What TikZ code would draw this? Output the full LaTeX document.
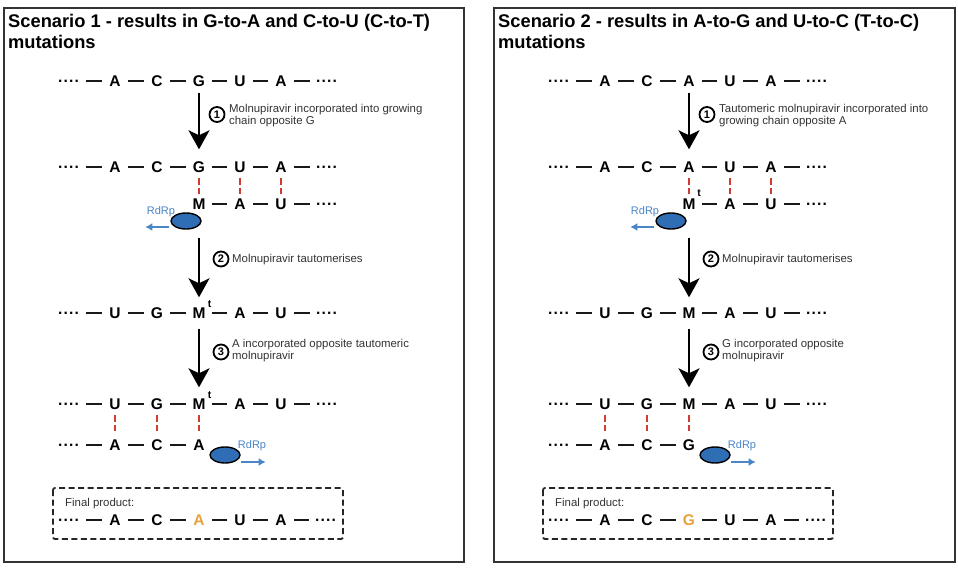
\documentclass[tikz,border=0pt]{standalone}
\usepackage{fontspec}
\setmainfont{Liberation Sans}
\usetikzlibrary{arrows.meta,shapes.geometric}
\definecolor{rdblue}{HTML}{2F6DB5}
\definecolor{rdtext}{HTML}{4A86C8}
\definecolor{pairred}{HTML}{D23B32}
\definecolor{orng}{HTML}{E9A13B}
\definecolor{framecol}{HTML}{333333}
\newcommand\ddd{·\kern0.3pt·\kern0.3pt·\kern0.3pt·}
\newcommand\seqrow[3]{%
  \foreach \xx/\seqlab/\mw [count=\k] in {#3}{%
    \node[nt, minimum width=\mw pt] (#1-\k) at (\xx,#2) {\seqlab};
    \ifnum\k>1
      \pgfmathtruncatemacro\km{\k-1}
      \draw[bond] (#1-\km) -- (#1-\k);
    \fi
  }%
}
\tikzset{
 nt/.style={inner sep=0pt, text height=11pt, text depth=0pt, font=\bfseries\fontsize{15.5}{15.5}\selectfont, anchor=center},
 bond/.style={line width=1.6pt, black!90},
 pairline/.style={pairred, line width=2.4pt, dash pattern=on 7pt off 3pt},
 bigarrow/.style={line width=2pt, -{Stealth[length=19pt,width=21pt,inset=5pt]}},
 num/.style={circle, draw, line width=1.8pt, minimum size=15pt, inner sep=0pt, font=\bfseries\fontsize{11}{11}\selectfont},
 steptxt/.style={anchor=base west, inner sep=0pt, font=\fontsize{11.4}{12}\selectfont, text=black!80},
 titletxt/.style={anchor=base west, inner sep=0pt, font=\bfseries\fontsize{18.3}{20}\selectfont},
 rdrp/.style={ellipse, draw=black, line width=1.4pt, fill=rdblue, minimum width=30pt, minimum height=16pt, inner sep=0pt},
 rdtxt/.style={anchor=base, inner sep=0pt, text=rdtext, font=\fontsize{11}{11}\selectfont},
 barrow/.style={rdtext, line width=1.5pt, -{Latex[length=7pt,width=8pt]}},
 tsup/.style={inner sep=0pt, font=\bfseries\fontsize{10.5}{10.5}\selectfont},
 panel/.style={draw=framecol, line width=2pt},
 finalbox/.style={draw=black!85, line width=1.8pt, dash pattern=on 6pt off 3.5pt, rounded corners=2pt},
}
\begin{document}
\begin{tikzpicture}[x=1pt,y=-1pt]
\fill[white] (0,0) rectangle (958,568);
\useasboundingbox (0,0) rectangle (958,568);

% ================= LEFT PANEL =================
\draw[panel] (4,8) rectangle (464,562);
\node[titletxt] (LT1) at (8,27) {Scenario 1 - results in G-to-A and C-to-U (C-to-T)};
\node[titletxt] (LT2) at (8,48) {mutations};

\seqrow{L1}{81}{69/\ddd/34, 115/A/26, 157/C/26, 199/G/26, 240/U/26, 281/A/26, 327/\ddd/34}
\seqrow{L2}{167}{69/\ddd/34, 115/A/26, 157/C/26, 199/G/26, 240/U/26, 281/A/26, 327/\ddd/34}
\seqrow{L2b}{204}{199/M/26, 240/A/26, 281/U/26, 327/\ddd/34}
\draw[pairline, shorten <=5pt, shorten >=4pt] (L2-4.south) -- (L2b-1.north);
\draw[pairline, shorten <=5pt, shorten >=4pt] (L2-5.south) -- (L2b-2.north);
\draw[pairline, shorten <=5pt, shorten >=4pt] (L2-6.south) -- (L2b-3.north);
\node[rdrp] (LE1) at (186,221) {};
\node[rdtxt] (LR1) at (161,214) {RdRp};
\draw[barrow] ([shift={(-1,6)}]LE1.west) -- ++(-24,0) coordinate (LA1);

\seqrow{L3}{313}{69/\ddd/34, 115/U/26, 157/G/26, 199/M/26, 240/A/26, 281/U/26, 327/\ddd/34}
\node[tsup] (L3t) at ([shift={(10.5,-9)}]L3-4.center) {t};

\seqrow{L4}{404}{69/\ddd/34, 115/U/26, 157/G/26, 199/M/26, 240/A/26, 281/U/26, 327/\ddd/34}
\node[tsup] (L4t) at ([shift={(10.5,-9)}]L4-4.center) {t};
\seqrow{L4b}{445}{69/\ddd/34, 115/A/26, 157/C/26, 199/A/26}
\draw[pairline, shorten <=5.5pt, shorten >=8pt] (L4-2.south) -- (L4b-2.north);
\draw[pairline, shorten <=5.5pt, shorten >=8pt] (L4-3.south) -- (L4b-3.north);
\draw[pairline, shorten <=5.5pt, shorten >=8pt] (L4-4.south) -- (L4b-4.north);
\node[rdrp] (LE2) at (225,455) {};
\node[rdtxt] (LR2) at (252,448) {RdRp};
\draw[barrow] ([shift={(0,7)}]LE2.east) -- ++(25,0) coordinate (LA2);

\draw[bigarrow, shorten <=6pt, shorten >=12pt] (L1-4.south) -- (L2-4.north);
\draw[bigarrow, shorten <=28pt, shorten >=10pt] (L2b-1.south) -- (L3-4.north);
\draw[bigarrow, shorten <=10pt, shorten >=11pt] (L3-4.south) -- (L4-4.north);

\node[num] (LN1) at (217,114.5) {1};
\node[steptxt] (LS1a) at (229,112) {Molnupiravir incorporated into growing};
\node[steptxt] (LS1b) at (229,124) {chain opposite G};
\node[num] (LN2) at (221,259) {2};
\node[steptxt] (LS2) at (232,262) {Molnupiravir tautomerises};
\node[num] (LN3) at (221,352) {3};
\node[steptxt] (LS3a) at (232,347) {A incorporated opposite tautomeric};
\node[steptxt] (LS3b) at (232,359) {molnupiravir};

\draw[finalbox] (53,488) rectangle (343,539);
\node[steptxt] (LFP) at (65,506) {Final product:};
\seqrow{LF}{520}{69/\ddd/34, 115/A/26, 157/C/26, 199/{\textcolor{orng}{A}}/26, 240/U/26, 281/A/26, 326/\ddd/34}

% ================= RIGHT PANEL =================
\begin{scope}[xshift=490pt]
\draw[panel] (4,8) rectangle (465,562);
\node[titletxt] (RT1) at (8,27) {Scenario 2 - results in A-to-G and U-to-C (T-to-C)};
\node[titletxt] (RT2) at (8,48) {mutations};

\seqrow{R1}{81}{69/\ddd/34, 115/A/26, 157/C/26, 199/A/26, 240/U/26, 281/A/26, 327/\ddd/34}
\seqrow{R2}{167}{69/\ddd/34, 115/A/26, 157/C/26, 199/A/26, 240/U/26, 281/A/26, 327/\ddd/34}
\seqrow{R2b}{204}{199/M/26, 240/A/26, 281/U/26, 327/\ddd/34}
\node[tsup] (R2t) at ([shift={(10,-11)}]R2b-1.center) {t};
\draw[pairline, shorten <=5pt, shorten >=4pt] (R2-4.south) -- (R2b-1.north);
\draw[pairline, shorten <=5pt, shorten >=4pt] (R2-5.south) -- (R2b-2.north);
\draw[pairline, shorten <=5pt, shorten >=4pt] (R2-6.south) -- (R2b-3.north);
\node[rdrp] (RE1) at (181,221) {};
\node[rdtxt] (RR1) at (155,214) {RdRp};
\draw[barrow] ([shift={(-1,6)}]RE1.west) -- ++(-24,0) coordinate (RA1);

\seqrow{R3}{313}{69/\ddd/34, 115/U/26, 157/G/26, 199/M/26, 240/A/26, 281/U/26, 327/\ddd/34}

\seqrow{R4}{404}{69/\ddd/34, 115/U/26, 157/G/26, 199/M/26, 240/A/26, 281/U/26, 327/\ddd/34}
\seqrow{R4b}{445}{69/\ddd/34, 115/A/26, 157/C/26, 199/G/26}
\draw[pairline, shorten <=5.5pt, shorten >=8pt] (R4-2.south) -- (R4b-2.north);
\draw[pairline, shorten <=5.5pt, shorten >=8pt] (R4-3.south) -- (R4b-3.north);
\draw[pairline, shorten <=5.5pt, shorten >=8pt] (R4-4.south) -- (R4b-4.north);
\node[rdrp] (RE2) at (225,455) {};
\node[rdtxt] (RR2) at (252,448) {RdRp};
\draw[barrow] ([shift={(0,7)}]RE2.east) -- ++(25,0) coordinate (RA2);

\draw[bigarrow, shorten <=6pt, shorten >=12pt] (R1-4.south) -- (R2-4.north);
\draw[bigarrow, shorten <=28pt, shorten >=10pt] (R2b-1.south) -- (R3-4.north);
\draw[bigarrow, shorten <=10pt, shorten >=11pt] (R3-4.south) -- (R4-4.north);

\node[num] (RN1) at (217,114.5) {1};
\node[steptxt] (RS1a) at (229,112) {Tautomeric molnupiravir incorporated into};
\node[steptxt] (RS1b) at (229,124) {growing chain opposite A};
\node[num] (RN2) at (221,259) {2};
\node[steptxt] (RS2) at (232,262) {Molnupiravir tautomerises};
\node[num] (RN3) at (221,352) {3};
\node[steptxt] (RS3a) at (232,347) {G incorporated opposite};
\node[steptxt] (RS3b) at (232,359) {molnupiravir};

\draw[finalbox] (53,488) rectangle (343,539);
\node[steptxt] (RFP) at (65,506) {Final product:};
\seqrow{RF}{520}{69/\ddd/34, 115/A/26, 157/C/26, 199/{\textcolor{orng}{G}}/26, 240/U/26, 281/A/26, 326/\ddd/34}
\end{scope}
\end{tikzpicture}
\end{document}
